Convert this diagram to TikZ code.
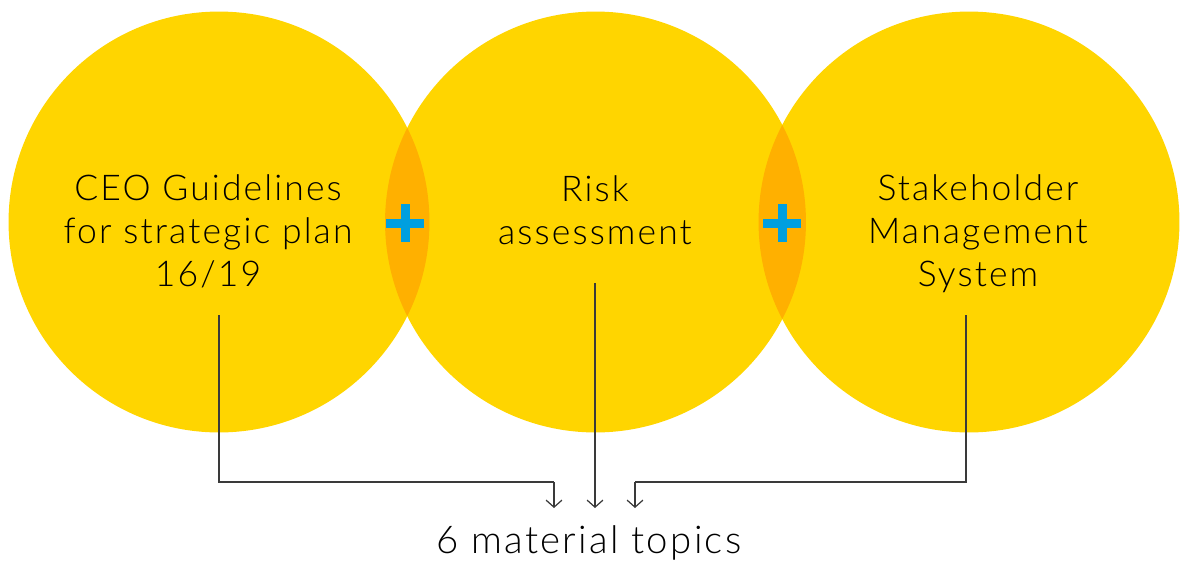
\documentclass[tikz,border=0pt]{standalone}
\usepackage{fontspec}
\setmainfont{Lato Light}[LetterSpace=6]
\usepackage{tikz}
\usetikzlibrary{arrows.meta}
\usetikzlibrary{positioning}

\definecolor{discyellow}{HTML}{FFD500}
\definecolor{lensorange}{HTML}{FFB000}
\definecolor{plusblue}{HTML}{009FDF}
\definecolor{linkgrey}{HTML}{3A3A3A}

\tikzset{
  disc/.style={circle, fill=discyellow, minimum size=8.42cm, inner sep=0pt},
  label text/.style={align=center, text=black, font=\fontsize{20.2}{24.2}\selectfont},
  link/.style={draw=linkgrey, line width=0.7pt},
  arrowlink/.style={link, -{Straight Barb[length=4pt,width=9pt]}},
  plusbar/.style={draw=plusblue, line width=0.18cm}
}

\begin{document}
\begin{tikzpicture}[x=0.02cm, y=-0.02cm]
  \useasboundingbox (0,0) rectangle (1182,561);

  % the three circles
  \node[disc] (ceo) at (219,222) {};
  \node[disc] (risk) at (595.5,222) {};
  \node[disc] (stake) at (969,222) {};

  % overlaps
  \begin{scope}
    \clip (219,222) circle[radius=4.21cm];
    \fill[lensorange] (595.5,222) circle[radius=4.21cm];
  \end{scope}
  \begin{scope}
    \clip (595.5,222) circle[radius=4.21cm];
    \fill[lensorange] (969,222) circle[radius=4.21cm];
  \end{scope}

  % plus signs
  \draw[plusbar] (386,223) -- (424,223) (405,204) -- (405,242);
  \draw[plusbar] (763,223) -- (801,223) (782,204) -- (782,242);

  % texts (base = baseline of the last line)
  \node[label text, anchor=base] (ceotext) at (208,286) {CEO Guidelines\\for strategic plan\\16/19};
  \node[label text, anchor=base] (risktext) at (595,244) {Risk\\assessment};
  \node[label text, anchor=base] (staketext) at (978,286) {Stakeholder\\Management\\System};
  \node[anchor=base, font=\fontsize{21.8}{26}\selectfont] (topics) at (589,553) {6 material topics};

  % connectors
  \coordinate (ceoout) at (219,315);
  \coordinate (riskout) at (595,283);
  \coordinate (stakeout) at (966,315);
  \coordinate (inleft) at (554,508);
  \coordinate (inmid) at (595,508);
  \coordinate (inright) at (635,508);
  \coordinate (bend) at (0,482);

  \draw[link] (ceoout) -- (ceoout |- bend) -- (inleft |- bend);
  \draw[arrowlink] (inleft |- bend) -- (inleft);
  \draw[arrowlink] (riskout) -- (inmid);
  \draw[link] (stakeout) -- (stakeout |- bend) -- (inright |- bend);
  \draw[arrowlink] (inright |- bend) -- (inright);
\end{tikzpicture}
\end{document}
